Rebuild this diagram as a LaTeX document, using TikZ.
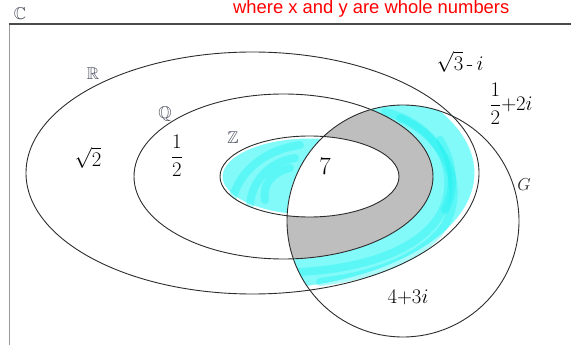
\documentclass[tikz,border=0pt]{standalone}
\usepackage{amssymb}
\usepackage{fontspec}
\newfontfamily\arialfont{Liberation Sans}
\definecolor{greyfill}{RGB}{190,190,190}
\definecolor{linec}{RGB}{45,45,45}
\definecolor{setlab}{RGB}{70,75,90}
\definecolor{hl}{RGB}{130,250,250}
\definecolor{hlstrong}{RGB}{20,240,240}
\begin{document}
\begin{tikzpicture}[x=1pt,y=-1pt,
  setline/.style={draw=linec,line width=0.9pt},
  setname/.style={text=setlab,font=\fontsize{17}{17}\selectfont,inner sep=0pt},
  hand/.style={font=\fontsize{21}{21}\selectfont,inner sep=0pt},
  scrib/.style={draw=hlstrong,draw opacity=0.35,line width=8pt,line cap=round,line join=round}]
\useasboundingbox (0,0) rectangle (571,345);
\clip (0,0) rectangle (571,345);
\coordinate (cR) at (252.5,173);
\coordinate (cQ) at (283.5,176.5);
\coordinate (cZ) at (309.5,176.5);
\coordinate (cG) at (403,221);
% frame
\draw[gray!80,line width=1pt] (9,24) -- (9,360);
\draw[black!70,line width=1.5pt] (8.5,24) -- (580,24);
% cyan part of Z outside G
\fill[hl] (cZ) ellipse [x radius=89.5pt, y radius=40.5pt];
\begin{scope}
  \clip (cZ) ellipse [x radius=89.5pt, y radius=40.5pt];
  \draw[white,line width=5pt] (cZ) ellipse [x radius=89.5pt, y radius=40.5pt];
  \draw[scrib] (232,200) .. controls (240,170) and (265,150) .. (300,145);
  \draw[scrib] (250,205) .. controls (252,180) and (270,162) .. (295,158);
  \draw[scrib] (265,200) .. controls (262,185) and (272,172) .. (290,168);
  \fill[white] (240,218) .. controls (248,208) and (258,206) .. (262,212) -- (262,220) -- cycle;
\end{scope}
% G interior
\fill[white] (cG) circle [radius=116pt];
\begin{scope}
  \clip (cG) circle [radius=116pt];
  \fill[hl] (cR) ellipse [x radius=226.5pt, y radius=121pt];
  \draw[white,line width=9pt] (cR) ellipse [x radius=226.5pt, y radius=121pt];
  \draw[scrib] (385,112) .. controls (440,125) and (462,175) .. (440,215) .. controls (420,248) and (370,268) .. (300,272);
  \draw[scrib] (400,118) .. controls (450,140) and (465,190) .. (445,225) .. controls (425,255) and (380,275) .. (320,282);
  \draw[scrib] (440,140) .. controls (455,165) and (455,190) .. (445,210);
  \draw[white,line width=4pt,line cap=round] (325,289) .. controls (350,286) and (370,282) .. (392,275);
  \fill[white] (cQ) ellipse [x radius=149.5pt, y radius=82.5pt];
  \fill[greyfill,even odd rule] (cQ) ellipse [x radius=149.5pt, y radius=82.5pt]
                             (cZ) ellipse [x radius=89.5pt, y radius=40.5pt];
\end{scope}
% outlines
\draw[setline] (cR) ellipse [x radius=226.5pt, y radius=121pt];
\draw[setline] (cQ) ellipse [x radius=149.5pt, y radius=82.5pt];
\draw[setline] (cZ) ellipse [x radius=89.5pt, y radius=40.5pt];
\draw[setline] (cG) circle [radius=116pt];
% set names
\node[setname] (labC) at (20,14) {$\mathbb{C}$};
\node[setname] (labR) at (93,74) {$\mathbb{R}$};
\node[setname] (labQ) at (165,114) {$\mathbb{Q}$};
\node[setname] (labZ) at (233,138) {$\mathbb{Z}$};
\node[font=\fontsize{16}{16}\selectfont,text=black!85,inner sep=0pt] (labG) at (524,185) {$G$};
% elements
\node[hand] (sqrt2) at (88,158) {$\sqrt{2}$};
\node[hand] (half) at (177,156) {$\displaystyle\frac{1}{2}$};
\node[hand,font=\fontsize{25}{25}\selectfont] (seven) at (325,166) {$7$};
\node[hand] (sqrt3i) at (460,62) {$\sqrt{3}\,\mbox{-}\,i$};
\node[hand] (halfpl) at (511,104) {$\displaystyle\frac{1}{2}{+}2i$};
\node[hand] (fourpl) at (408,297) {$4{+}3i$};
% red note
\node[anchor=base west,inner sep=0pt,text=red,font=\arialfont\fontsize{18.4}{20}\selectfont] (note) at (233,13.8) {where x and y are whole numbers};
\end{tikzpicture}
\end{document}
